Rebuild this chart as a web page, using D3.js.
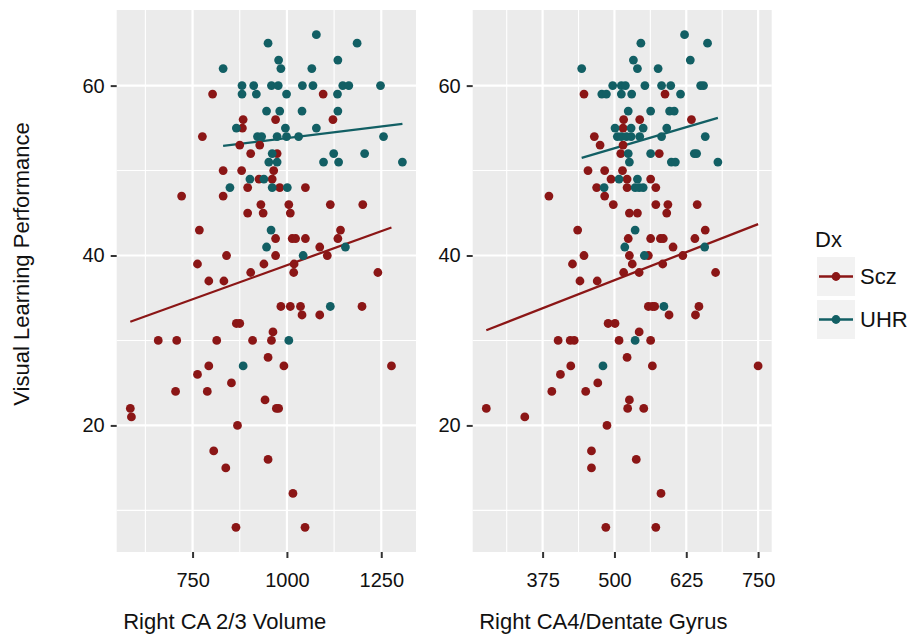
<!DOCTYPE html>
<html><head><meta charset="utf-8">
<script src="https://cdn.jsdelivr.net/npm/d3@7"></script>
<style>body{margin:0;background:#fff} text{font-family:"Liberation Sans",Arial,Helvetica,sans-serif;fill:#111}</style>
</head><body><svg id="c" width="909" height="635"></svg>
<script>
// ---------------- data ----------------
const groups = ["Scz", "UHR"];
const groupColors = ["#8b1616", "#125f64"];
const legendTitle = "Dx";
const yTitle = "Visual Learning Performance";
const panelTitles = ["Right CA 2/3 Volume", "Right CA4/Dentate Gyrus"];
const yTicks = [20, 40, 60];
const yMinor = [10, 30, 50];
const xTicksCA23 = [750, 1000, 1250];
const xMinorCA23 = [625, 875, 1125];
const xTicksCA4 = [375, 500, 625, 750];
const xMinorCA4 = [312.5, 437.5, 562.5, 687.5];

const sczCA23 = [[803,59],[1096,59],[884,56],[970,56],[1122,56],[882,55],[776,54],[875,53],[928,53],
[904,52],[974,52],[831,50],[880,50],[965,50],[926,49],[961,49],[896,48],[981,48],[1049,48],[721,47],[831,47],
[931,46],[1005,46],[1115,46],[1201,46],[896,45],[937,45],[1009,45],[768,43],[1142,43],
[970,42],[1014,42],[1023,42],[1049,42],[1135,42],[1087,41],[840,40],[970,40],[1107,40],
[763,39],[939,39],[1019,39],[904,38],[1018,38],[1241,38],[793,37],[833,37],
[984,34],[1009,34],[1036,34],[1199,34],[1040,33],[1087,33],[866,32],[875,32],[963,31],
[659,30],[708,30],[814,30],[909,30],[959,30],[950,28],[793,27],[992,27],[1277,27],[763,26],[853,25],
[705,24],[789,24],[942,23],[585,22],[972,22],[978,22],[588,21],[869,20],[806,17],[950,16],[838,15],
[1016,12],[865,8],[1048,8]];
const uhrCA23 = [[1078,66],[950,65],[1186,65],[978,63],[1135,63],[831,62],[984,62],[1066,62],
[881,60],[912,60],[959,60],[977,60],[1041,60],[1069,60],[1148,60],[1164,60],[1248,60],
[881,59],[919,59],[999,59],[1134,59],[946,57],[981,57],[1040,57],[1135,57],[866,55],[996,55],[1078,55],
[922,54],[933,54],[974,54],[999,54],[1031,54],[1256,54],[961,52],[1124,52],[1206,52],
[952,51],[974,51],[1097,51],[1137,51],[1306,51],[902,49],[939,49],[849,48],[961,48],[1001,48],
[958,43],[946,41],[1155,41],[1043,40],[1115,34],[1005,30],[884,27]];
const sczCA4 = [[447,59],[588,59],[516,56],[544,56],[634,56],[515,55],[465,54],[475,53],[515,53],
[511,52],[578,52],[454,50],[483,50],[514,50],[494,49],[522,49],[563,49],[469,48],[522,48],[572,48],
[386,47],[483,47],[498,46],[572,46],[593,46],[644,46],[526,45],[540,45],[591,45],[436,43],[658,43],
[524,42],[563,42],[580,42],[585,42],[640,42],[602,41],[447,40],[526,40],[559,40],[619,40],
[427,39],[531,39],[584,39],[516,38],[543,38],[676,38],[440,37],[470,37],
[559,34],[566,34],[570,34],[647,34],[595,33],[641,33],[489,32],[501,32],[543,31],
[402,30],[423,30],[430,30],[508,30],[563,30],[522,28],[424,27],[566,27],[750,27],[406,26],[471,25],
[391,24],[450,24],[526,23],[277,22],[523,22],[551,22],[344,21],[487,20],[460,17],[538,16],[460,15],
[581,12],[485,8],[572,8]];
const uhrCA4 = [[622,66],[546,65],[662,65],[533,63],[632,63],[443,62],[540,62],[576,62],
[497,60],[512,60],[519,60],[553,60],[582,60],[598,60],[650,60],[655,60],
[478,59],[486,59],[512,59],[530,59],[615,59],[524,57],[563,57],[596,57],[604,57],
[501,55],[529,55],[550,55],[591,55],[505,54],[512,54],[521,54],[529,54],[544,54],[582,54],[658,54],
[524,52],[563,52],[639,52],[643,52],[526,51],[599,51],[606,51],[680,51],[508,49],[540,49],
[482,48],[536,48],[543,48],[550,48],[536,43],[518,41],[657,41],[552,40],[586,34],[536,30],[480,27]];

// fitted regression lines (endpoints, data units)
const sczFitCA23 = [[585,32.2],[1277,43.3]];
const uhrFitCA23 = [[831,52.9],[1306,55.5]];
const sczFitCA4 = [[277,31.2],[750,43.7]];
const uhrFitCA4 = [[443,51.5],[680,56.2]];

// ---------------- drawing ----------------
const svg = d3.select("#c");
const panelTop = 10, panelBottom = 552;
const panels = [
  {x0:116.7, x1:416, title:panelTitles[0], ticks:xTicksCA23, minor:xMinorCA23,
   series:[sczCA23, uhrCA23], fits:[sczFitCA23, uhrFitCA23]},
  {x0:472.7, x1:771.7, title:panelTitles[1], ticks:xTicksCA4, minor:xMinorCA4,
   series:[sczCA4, uhrCA4], fits:[sczFitCA4, uhrFitCA4]}
];
function expand(ext){ const r = ext[1]-ext[0]; return [ext[0]-0.05*r, ext[1]+0.05*r]; }
const allY = [].concat(sczCA23, uhrCA23).map(d=>d[1]);
const y = d3.scaleLinear().domain(expand(d3.extent(allY))).range([panelBottom, panelTop]);

panels.forEach(p => {
  const allX = [].concat(p.series[0], p.series[1]).map(d=>d[0]);
  const x = d3.scaleLinear().domain(expand(d3.extent(allX))).range([p.x0, p.x1]);
  const g = svg.append("g");
  g.append("rect").attr("x",p.x0).attr("y",panelTop).attr("width",p.x1-p.x0).attr("height",panelBottom-panelTop).attr("fill","#ebebeb");
  // minor grid
  g.selectAll(null).data(p.minor).join("line").attr("x1",d=>x(d)).attr("x2",d=>x(d)).attr("y1",panelTop).attr("y2",panelBottom)
    .attr("stroke","#fff").attr("stroke-width",1.1);
  g.selectAll(null).data(yMinor).join("line").attr("y1",d=>y(d)).attr("y2",d=>y(d)).attr("x1",p.x0).attr("x2",p.x1)
    .attr("stroke","#fff").attr("stroke-width",1.1);
  // major grid
  g.selectAll(null).data(p.ticks).join("line").attr("x1",d=>x(d)).attr("x2",d=>x(d)).attr("y1",panelTop).attr("y2",panelBottom)
    .attr("stroke","#fff").attr("stroke-width",2.2);
  g.selectAll(null).data(yTicks).join("line").attr("y1",d=>y(d)).attr("y2",d=>y(d)).attr("x1",p.x0).attr("x2",p.x1)
    .attr("stroke","#fff").attr("stroke-width",2.2);

  // axes
  const xa = svg.append("g").attr("transform",`translate(0,${panelBottom})`)
    .call(d3.axisBottom(x).tickValues(p.ticks).tickSize(6).tickPadding(5).tickFormat(d3.format("d")));
  const ya = svg.append("g").attr("transform",`translate(${p.x0},0)`)
    .call(d3.axisLeft(y).tickValues(yTicks).tickSize(6).tickPadding(6).tickFormat(d3.format("d")));
  [xa, ya].forEach(a => {
    a.select(".domain").remove();
    a.selectAll(".tick line").attr("stroke","#333").attr("stroke-width",2);
    a.selectAll(".tick text").style("font-size","20px").attr("fill","#111")
      .style("font-family",'"Liberation Sans",Arial,sans-serif');
  });
  xa.selectAll(".tick text").attr("dy",null).attr("y",35);

  // fits
  p.fits.forEach((f,i) => {
    g.append("line").attr("x1",x(f[0][0])).attr("y1",y(f[0][1])).attr("x2",x(f[1][0])).attr("y2",y(f[1][1]))
      .attr("stroke",groupColors[i]).attr("stroke-width",2.3);
  });
  // points
  p.series.forEach((s,i) => {
    g.selectAll(null).data(s).join("circle").attr("cx",d=>x(d[0])).attr("cy",d=>y(d[1])).attr("r",4.4)
      .attr("fill",groupColors[i]);
  });
  // panel title (x axis label)
  svg.append("text").attr("x",p.x0+6.5).attr("y",629).style("font-size","22px").text(p.title);
});

// y title
svg.append("text").attr("transform","translate(29,264) rotate(-90)").attr("text-anchor","middle")
  .style("font-size","22px").text(yTitle);

// legend
const lg = svg.append("g");
lg.append("text").attr("x",815).attr("y",247).style("font-size","22px").text(legendTitle);
groups.forEach((gname,i) => {
  const ky = 257 + i*43;
  lg.append("rect").attr("x",817).attr("y",ky).attr("width",38).attr("height",39).attr("fill","#f2f2f2");
  lg.append("line").attr("x1",819).attr("x2",853).attr("y1",ky+19.5).attr("y2",ky+19.5)
    .attr("stroke",groupColors[i]).attr("stroke-width",2.3);
  lg.append("circle").attr("cx",836).attr("cy",ky+19.5).attr("r",4.4).attr("fill",groupColors[i]);
  lg.append("text").attr("x",860).attr("y",ky+19.5).attr("dy","0.36em").style("font-size","22px").text(gname);
});
</script></body></html>
